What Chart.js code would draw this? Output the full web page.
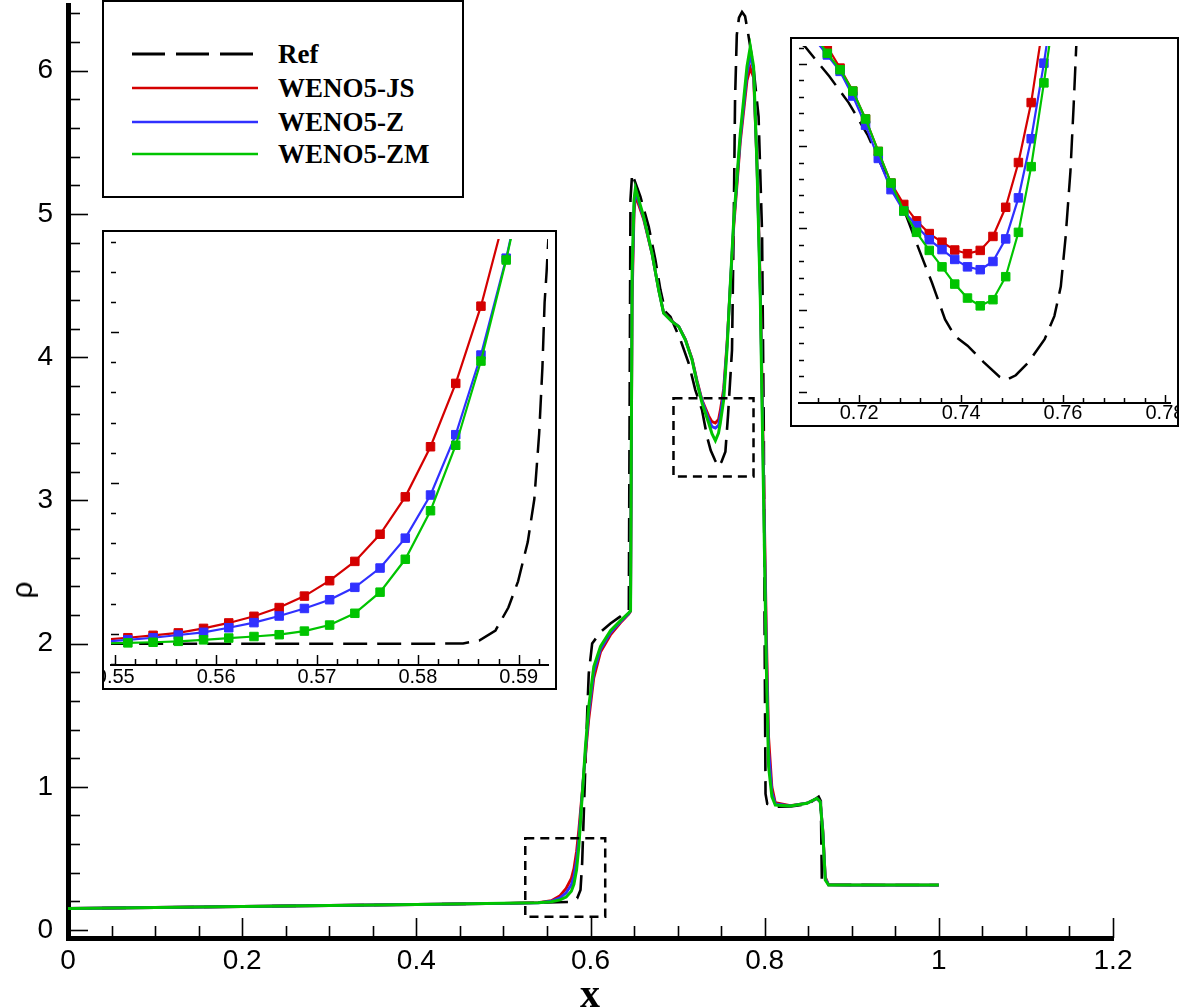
<!DOCTYPE html>
<html>
<head>
<meta charset="utf-8">
<title>Density profile</title>
<script src="https://cdn.jsdelivr.net/npm/chart.js@4.4.1/dist/chart.umd.min.js"></script>
<style>
  html, body { margin: 0; padding: 0; background: #fff; }
  #page { position: relative; width: 1179px; height: 1008px; overflow: hidden; }
  #mainChart { position: absolute; left: 0; top: 0; }
  .inset { position: absolute; border: 2px solid #000; background: #fff; }
  .inset canvas { display: block; }
  #legend { position: absolute; left: 102px; top: 0; width: 358px; height: 194px; border: 2px solid #000; background: #fff; }
  .legend-row { position: absolute; left: 0; width: 100%; height: 30px; }
  .legend-row svg { position: absolute; left: 28px; top: 0; }
  .legend-row span { position: absolute; left: 174px; top: 0; font: bold 27px 'Liberation Serif', 'Times New Roman', serif; line-height: 30px; color: #000; white-space: nowrap; }
  .axis-title { position: absolute; color: #000; white-space: nowrap; line-height: 1; }
  #xTitle { left: 590px; top: 994px; transform: translate(-50%, -50%); font: bold 40px 'Liberation Serif', 'Times New Roman', serif; line-height: 1; }
  #yTitle { left: 22px; top: 590px; transform: translate(-50%, -50%) rotate(-90deg); font: 30px 'Liberation Sans', Arial, sans-serif; line-height: 1; }
</style>
</head>
<body>
<div id="page">
  <canvas id="mainChart" width="1179" height="1008"></canvas>
  <div id="legend"></div>
  <div class="inset" id="inset1" style="left:102px; top:230px; width:451px; height:456px;">
    <canvas id="inset1Chart" width="451" height="456"></canvas>
  </div>
  <div class="inset" id="inset2" style="left:790px; top:37px; width:385px; height:386px;">
    <canvas id="inset2Chart" width="385" height="386"></canvas>
  </div>
  <div class="axis-title" id="xTitle">x</div>
  <div class="axis-title" id="yTitle">ρ</div>
</div>
<script>
// ========================================
// Density profile — main panel + two zoom insets
// ========================================

const seriesNames = ['Ref', 'WENO5-JS', 'WENO5-Z', 'WENO5-ZM'];

// --- main panel: reference solution ---
const refX = [
    0, 0.1, 0.2, 0.3, 0.4,
    0.5, 0.55, 0.577, 0.5847, 0.5885,
    0.5904, 0.5923, 0.5942, 0.5962, 0.598,
    0.6019, 0.6115, 0.6229, 0.6344, 0.644,
    0.6459, 0.6478, 0.6573, 0.6669, 0.6745,
    0.6803, 0.686, 0.6918, 0.7033, 0.7128,
    0.7204, 0.7281, 0.7338, 0.738, 0.743,
    0.747, 0.7505, 0.7549, 0.758, 0.7625,
    0.7644, 0.766, 0.768, 0.7705, 0.774,
    0.7775, 0.781, 0.787, 0.793, 0.797,
    0.799, 0.8, 0.801, 0.803, 0.81,
    0.83, 0.85, 0.862, 0.8645, 0.8657,
    0.87, 0.9, 1.0
];
const refRho = [
    0.150, 0.157, 0.164, 0.171, 0.178,
    0.186, 0.192, 0.196, 0.221, 0.279,
    0.466, 0.814, 1.164, 1.51, 1.79,
    2.0, 2.08, 2.14, 2.19, 2.235,
    5.1, 5.28, 5.12, 4.91, 4.68,
    4.47, 4.318, 4.283, 4.12, 3.957,
    3.77, 3.63, 3.445, 3.35, 3.28,
    3.235, 3.27, 3.34, 3.60, 4.05,
    4.90, 5.80, 6.25, 6.37, 6.41,
    6.38, 6.26, 6.03, 5.68, 4.87,
    3.5, 2.0, 0.95, 0.88, 0.861,
    0.862, 0.88, 0.931, 0.9, 0.33,
    0.316, 0.315, 0.314
];

// --- main panel: the three schemes (same sampling in x) ---
const schemeX = [
    0, 0.1, 0.2, 0.3, 0.4,
    0.5, 0.54, 0.555, 0.565, 0.572,
    0.578, 0.581, 0.584, 0.5866, 0.5904,
    0.5942, 0.598, 0.6038, 0.6115, 0.6229,
    0.6344, 0.6439, 0.646, 0.6478, 0.65,
    0.6516, 0.6611, 0.6707, 0.6783, 0.684,
    0.6937, 0.7013, 0.709, 0.7166, 0.7224,
    0.7281, 0.7357, 0.7395, 0.7434, 0.747,
    0.7491, 0.7529, 0.7568, 0.7606, 0.7644,
    0.772, 0.7797, 0.7835, 0.7873, 0.7912,
    0.795, 0.7988, 0.8019, 0.8045, 0.8083,
    0.8122, 0.8294, 0.8486, 0.86, 0.8638,
    0.8668, 0.8696, 0.8734, 0.9, 1.0
];
const jsRho = [
    0.150, 0.157, 0.164, 0.171, 0.178,
    0.186, 0.191, 0.205, 0.240, 0.290,
    0.360, 0.430, 0.550, 0.700, 0.960,
    1.220, 1.470, 1.760, 1.940, 2.060,
    2.145, 2.205, 2.225, 4.400, 5.000,
    5.130, 4.960, 4.720, 4.470, 4.310,
    4.250, 4.215, 4.125, 3.990, 3.835,
    3.700, 3.590, 3.550, 3.540, 3.565,
    3.630, 3.780, 4.100, 4.500, 4.900,
    5.500, 5.930, 6.020, 5.950, 5.350,
    4.500, 3.200, 2.100, 1.350, 1.000,
    0.890, 0.868, 0.885, 0.918, 0.896,
    0.700, 0.370, 0.315, 0.314, 0.314
];
const zRho = [
    0.150, 0.157, 0.164, 0.171, 0.178,
    0.186, 0.190, 0.201, 0.225, 0.260,
    0.315, 0.375, 0.485, 0.640, 0.945,
    1.250, 1.515, 1.800, 1.960, 2.075,
    2.152, 2.210, 2.228, 4.500, 5.050,
    5.160, 4.970, 4.722, 4.470, 4.308,
    4.249, 4.214, 4.122, 3.985, 3.826,
    3.695, 3.565, 3.515, 3.505, 3.525,
    3.590, 3.750, 4.080, 4.510, 4.930,
    5.530, 5.980, 6.110, 6.000, 5.340,
    4.450, 3.100, 1.970, 1.250, 0.960,
    0.880, 0.867, 0.885, 0.919, 0.896,
    0.690, 0.360, 0.315, 0.314, 0.314
];
const zmRho = [
    0.150, 0.157, 0.164, 0.171, 0.178,
    0.186, 0.190, 0.198, 0.210, 0.230,
    0.270, 0.320, 0.420, 0.580, 0.930,
    1.280, 1.560, 1.840, 1.980, 2.090,
    2.160, 2.215, 2.230, 4.600, 5.100,
    5.180, 4.980, 4.725, 4.469, 4.306,
    4.248, 4.213, 4.120, 3.980, 3.818,
    3.680, 3.540, 3.465, 3.417, 3.470,
    3.540, 3.700, 4.060, 4.515, 4.950,
    5.563, 6.030, 6.168, 6.030, 5.330,
    4.400, 3.000, 1.840, 1.140, 0.931,
    0.873, 0.866, 0.885, 0.920, 0.896,
    0.675, 0.349, 0.314, 0.314, 0.314
];

// --- inset 1 (foot of the compression, cell centres) ---
const in1CellX = [
    0.54875, 0.55125, 0.55375, 0.55625, 0.55875, 0.56125,
    0.56375, 0.56625, 0.56875, 0.57125, 0.57375, 0.57625,
    0.57875, 0.58125, 0.58375, 0.58625, 0.58875, 0.59125
];
const in1JS = [
    0.1980, 0.1987, 0.1995, 0.2003, 0.2018, 0.2036,
    0.2058, 0.2087, 0.2125, 0.2176, 0.2240, 0.2330,
    0.2454, 0.2620, 0.2830, 0.3086, 0.3404, 0.3780
];
const in1Z = [
    0.1974, 0.1980, 0.1987, 0.1996, 0.2005, 0.2020,
    0.2037, 0.2059, 0.2084, 0.2113, 0.2154, 0.2218,
    0.2317, 0.2460, 0.2660, 0.2924, 0.3245, 0.3620
];
const in1ZM = [
    0.1968, 0.1970, 0.1972, 0.1975, 0.1980, 0.1986,
    0.1991, 0.1997, 0.2009, 0.2029, 0.2068, 0.2138,
    0.2247, 0.2408, 0.2625, 0.2904, 0.3239, 0.3620
];
const in1RefX = [
    0.5490, 0.5600, 0.5700, 0.5800, 0.58448, 0.58608, 0.58769, 0.58897,
    0.58993, 0.59089, 0.59154, 0.59202, 0.59234, 0.59256, 0.59276, 0.5930
];
const in1RefRho = [
    0.1967, 0.1967, 0.1967, 0.1967, 0.1968, 0.1978, 0.2011, 0.2087,
    0.2174, 0.2304, 0.2446, 0.2663, 0.2880, 0.3098, 0.3201, 0.3350
];

// --- inset 2 (density dip between the two peaks) ---
const in2CellX = [
    0.71125, 0.71375, 0.71625, 0.71875, 0.72125,
    0.72375, 0.72625, 0.72875, 0.73125, 0.73375,
    0.73625, 0.73875, 0.74125, 0.74375, 0.74625,
    0.74875, 0.75125, 0.75375, 0.75625, 0.75875
];
const in2JS = [
    4.090, 4.042, 3.990, 3.934, 3.866,
    3.787, 3.710, 3.658, 3.618, 3.587,
    3.566, 3.547, 3.538, 3.546, 3.580,
    3.651, 3.760, 3.906, 4.110, 4.330
];
const in2Z = [
    4.060, 4.022, 3.982, 3.922, 3.851,
    3.770, 3.694, 3.642, 3.606, 3.572,
    3.548, 3.524, 3.506, 3.499, 3.519,
    3.574, 3.674, 3.818, 4.002, 4.210
];
const in2ZM = [
    4.070, 4.026, 3.986, 3.934, 3.866,
    3.787, 3.710, 3.642, 3.590, 3.546,
    3.506, 3.464, 3.430, 3.411, 3.426,
    3.482, 3.590, 3.750, 3.954, 4.170
];
const in2RefX = [
    0.7080, 0.7094, 0.71413, 0.71792, 0.7217,
    0.72549, 0.72864, 0.7318, 0.73432, 0.73685,
    0.73874, 0.74126, 0.74442, 0.74757, 0.74883,
    0.75073, 0.75325, 0.7564, 0.7583, 0.75956,
    0.7605, 0.76145, 0.76208, 0.76259, 0.7630
];
const in2RefRho = [
    4.055, 4.042, 3.970, 3.906, 3.826,
    3.722, 3.650, 3.546, 3.466, 3.378,
    3.338, 3.314, 3.274, 3.238, 3.230,
    3.242, 3.274, 3.330, 3.386, 3.458,
    3.578, 3.738, 3.898, 4.042, 4.100
];

// --- tick labels ---
const mainXTicks = [0, 0.2, 0.4, 0.6, 0.8, 1, 1.2];
const mainYTicks = [0, 1, 2, 3, 4, 5, 6];
const in1XTicks = [0.55, 0.56, 0.57, 0.58, 0.59];
const in2XTicks = [0.72, 0.74, 0.76, 0.78];

// zoom windows marked on the main panel: [xMin, xMax, rhoMin, rhoMax]
const zoomBox1 = [0.5251, 0.6169, 0.093, 0.640];
const zoomBox2 = [0.6953, 0.7872, 3.166, 3.713];

// ----------------------------------------
const COLORS = {
    'Ref': '#000000',
    'WENO5-JS': '#d40000',
    'WENO5-Z': '#3030ff',
    'WENO5-ZM': '#00c400'
};
const NUM_FONT = "'Liberation Sans', Arial, sans-serif";

const pts = (xs, ys) => xs.map((x, i) => ({ x: x, y: ys[i] }));

function lineSet(name, data, width, markers) {
    const isRef = name === 'Ref';
    return {
        label: name,
        data: data,
        showLine: true,
        borderColor: COLORS[name],
        backgroundColor: COLORS[name],
        borderWidth: width,
        borderDash: isRef ? [24, 10] : [],
        pointRadius: (markers && !isRef) ? 6 : 0,
        pointStyle: 'rect',
        pointBorderWidth: 1,
        pointBorderColor: COLORS[name],
        order: 3 - seriesNames.indexOf(name),
        tension: 0
    };
}

// fixes a scale's box so the plot area lands where the figure has it
function fixScale(w, h) {
    return s => {
        if (w !== null) s.width = w;
        if (h !== null) s.height = h;
        s.paddingLeft = s.paddingRight = s.paddingTop = s.paddingBottom = 0;
    };
}

// tecplot-style tick marks pointing into the plot
function innerTicks(spec) {
    return {
        id: 'innerTicks',
        beforeDatasetsDraw(chart) {
            const { ctx, chartArea: a, scales } = chart;
            ctx.save();
            ctx.strokeStyle = '#000';
            ctx.lineWidth = spec.width;
            ['x', 'y'].forEach(axis => {
                const sc = scales[axis], t = spec[axis];
                const n0 = Math.ceil(sc.min / t.minor - 1e-6);
                const n1 = Math.floor(sc.max / t.minor + 1e-6);
                for (let n = n0; n <= n1; n++) {
                    const v = n * t.minor;
                    const major = Math.abs(v / t.major - Math.round(v / t.major)) < 1e-6;
                    const len = major ? t.majorLen : t.minorLen;
                    const p = Math.round(sc.getPixelForValue(v)) + 0.5;
                    ctx.beginPath();
                    if (axis === 'x') { ctx.moveTo(p, a.bottom); ctx.lineTo(p, a.bottom - len); }
                    else { ctx.moveTo(a.left, p); ctx.lineTo(a.left + len, p); }
                    ctx.stroke();
                }
            });
            ctx.restore();
        }
    };
}

const zoomBoxes = {
    id: 'zoomBoxes',
    afterDatasetsDraw(chart) {
        const { ctx, scales: { x, y } } = chart;
        ctx.save();
        ctx.strokeStyle = '#000';
        ctx.lineWidth = 2.5;
        ctx.setLineDash([9, 6]);
        [zoomBox1, zoomBox2].forEach(b => {
            const x0 = x.getPixelForValue(b[0]), x1 = x.getPixelForValue(b[1]);
            const y0 = y.getPixelForValue(b[3]), y1 = y.getPixelForValue(b[2]);
            ctx.strokeRect(x0, y0, x1 - x0, y1 - y0);
        });
        ctx.restore();
    }
};

const baseOptions = {
    responsive: false,
    animation: false,
    devicePixelRatio: 1,
    events: [],
    plugins: { legend: { display: false }, tooltip: { enabled: false } }
};

// ---------------- main panel ----------------
new Chart(document.getElementById('mainChart'), {
    type: 'scatter',
    data: {
        datasets: [
            lineSet('Ref', pts(refX, refRho), 2.6, false),
            lineSet('WENO5-JS', pts(schemeX, jsRho), 2.8, false),
            lineSet('WENO5-Z', pts(schemeX, zRho), 2.8, false),
            lineSet('WENO5-ZM', pts(schemeX, zmRho), 3, false)
        ]
    },
    options: {
        ...baseOptions,
        layout: { padding: { left: 0, right: 66, top: 5, bottom: 0 } },
        scales: {
            x: {
                type: 'linear', position: 'bottom', min: 0, max: 1.2,
                afterFit: fixScale(null, 70),
                afterBuildTicks: s => { s.ticks = mainXTicks.map(v => ({ value: v })); },
                grid: { drawOnChartArea: false, drawTicks: false },
                border: { display: true, color: '#000', width: 5 },
                ticks: {
                    autoSkip: false, maxRotation: 0, padding: 6, color: '#000',
                    font: { family: NUM_FONT, size: 28 },
                    callback: v => String(Number(v.toFixed(1)))
                }
            },
            y: {
                type: 'linear', position: 'left', min: -0.0559, max: 6.459,
                afterFit: fixScale(68, null),
                afterBuildTicks: s => { s.ticks = mainYTicks.map(v => ({ value: v })); },
                grid: { drawOnChartArea: false, drawTicks: false },
                border: { display: true, color: '#000', width: 5 },
                ticks: {
                    autoSkip: false, padding: 15, color: '#000',
                    font: { family: NUM_FONT, size: 28 },
                    callback: v => String(v)
                }
            }
        }
    },
    plugins: [
        innerTicks({
            width: 1.6,
            x: { minor: 0.05, major: 0.2, minorLen: 12, majorLen: 20 },
            y: { minor: 0.2, major: 1, minorLen: 12, majorLen: 20 }
        }),
        zoomBoxes
    ]
});

// ---------------- insets ----------------
function insetChart(id, sets, xr, yr, xTicks, ticksSpec, axisH, padTop, labelPad) {
    return new Chart(document.getElementById(id), {
        type: 'scatter',
        data: { datasets: sets },
        options: {
            ...baseOptions,
            layout: { padding: { left: 0, right: 1, top: padTop, bottom: 0 } },
            scales: {
                x: {
                    type: 'linear', position: 'bottom', min: xr[0], max: xr[1],
                    afterFit: fixScale(null, axisH),
                    afterBuildTicks: s => { s.ticks = xTicks.map(v => ({ value: v })); },
                    grid: { drawOnChartArea: false, drawTicks: false },
                    border: { display: true, color: '#000', width: 2 },
                    ticks: {
                        autoSkip: false, maxRotation: 0, padding: labelPad, color: '#000',
                        font: { family: NUM_FONT, size: 20 },
                        callback: v => v.toFixed(2)
                    }
                },
                y: { type: 'linear', display: false, min: yr[0], max: yr[1] }
            }
        },
        plugins: [innerTicks(ticksSpec)]
    });
}

insetChart('inset1Chart', [
    lineSet('Ref', pts(in1RefX, in1RefRho), 2.5, false),
    lineSet('WENO5-JS', pts(in1CellX, in1JS), 2.2, true),
    lineSet('WENO5-Z', pts(in1CellX, in1Z), 2.2, true),
    lineSet('WENO5-ZM', pts(in1CellX, in1ZM), 2.2, true)
], [0.549577, 0.592897], [0.18966, 0.33086], in1XTicks, {
    width: 1.5,
    x: { minor: 0.002, major: 0.01, minorLen: 6, majorLen: 10 },
    y: { minor: 0.01, major: 0.05, minorLen: 5, majorLen: 8 }
}, 23, 0, 0);

insetChart('inset2Chart', [
    lineSet('Ref', pts(in2RefX, in2RefRho), 2.5, false),
    lineSet('WENO5-JS', pts(in2CellX, in2JS), 2.2, true),
    lineSet('WENO5-Z', pts(in2CellX, in2Z), 2.2, true),
    lineSet('WENO5-ZM', pts(in2CellX, in2ZM), 2.2, true)
], [0.70819, 0.78099], [3.1744, 4.0438], in2XTicks, {
    width: 1.5,
    x: { minor: 0.004, major: 0.02, minorLen: 5, majorLen: 8 },
    y: { minor: 0.04, major: 0.2, minorLen: 5, majorLen: 8 }
}, 22, 1, -2);

// ---------------- legend ----------------
const legend = document.getElementById('legend');
const rowTops = [37, 71, 105, 137];
seriesNames.forEach((name, i) => {
    const row = document.createElement('div');
    row.className = 'legend-row';
    row.style.top = rowTops[i] + 'px';
    const dash = name === 'Ref' ? ' stroke-dasharray="33 11"' : '';
    const w = name === 'Ref' ? 3 : 2.6;
    row.innerHTML =
        '<svg width="126" height="30"><line x1="0" y1="15" x2="126" y2="15" stroke="' +
        COLORS[name] + '" stroke-width="' + w + '"' + dash + '/></svg>' +
        '<span>' + name + '</span>';
    legend.appendChild(row);
});
</script>
</body>
</html>
